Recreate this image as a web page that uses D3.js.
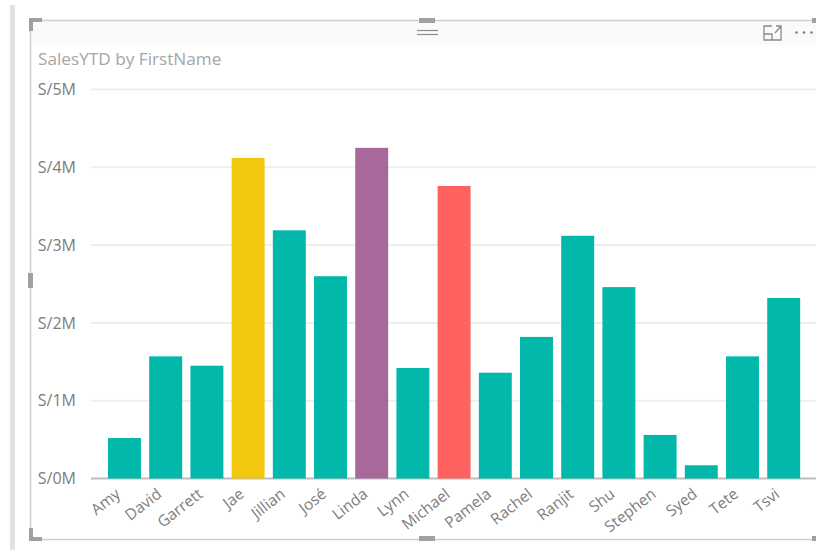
<!DOCTYPE html>
<html>
<head>
<meta charset="utf-8">
<script src="https://cdn.jsdelivr.net/npm/d3@7"></script>
<style>
    html, body { margin: 0; padding: 0; background: #fff; overflow: hidden; }
    text { font-family: "Open Sans", "Noto Sans", sans-serif; }
</style>
</head>
<body>
<div id="chart"></div>
<script>
const names = ["Amy", "David", "Garrett", "Jae", "Jillian", "José", "Linda", "Lynn", "Michael",
    "Pamela", "Rachel", "Ranjit", "Shu", "Stephen", "Syed", "Tete", "Tsvi"];
const salesYTD = [0.52, 1.57, 1.45, 4.12, 3.19, 2.60, 4.25, 1.42, 3.76,
    1.36, 1.82, 3.12, 2.46, 0.56, 0.17, 1.57, 2.32];
const yTicks = [0, 1, 2, 3, 4, 5];
const highlighted = new Map([["Jae", "#f2c80f"], ["Linda", "#a66999"], ["Michael", "#fd625e"]]);

const svg = d3.select("#chart").append("svg").attr("width", 816).attr("height", 550);

// report page edge and visual frame
svg.append("rect").attr("x", 10).attr("y", 5).attr("width", 5).attr("height", 545).attr("fill", "#e2e2e2");
svg.append("rect").attr("x", 31).attr("y", 21).attr("width", 785).attr("height", 24).attr("fill", "#fafafa");
svg.append("path").attr("d", "M816,20.5H30.5V539.5H816").attr("fill", "none").attr("stroke", "#cfcfcf").attr("stroke-width", 1.5);

const handle = "#a0a0a0";
svg.append("path").attr("fill", handle).attr("d", "M29,18h13v4h-9v9h-4z");
svg.append("path").attr("fill", handle).attr("d", "M29,528h4v9h9v4h-13z");
svg.append("rect").attr("x", 419).attr("y", 18).attr("width", 16).attr("height", 5).attr("fill", handle);
svg.append("rect").attr("x", 419).attr("y", 536).attr("width", 16).attr("height", 5).attr("fill", handle);
svg.append("rect").attr("x", 28).attr("y", 273).attr("width", 5).attr("height", 15).attr("fill", handle);
svg.append("rect").attr("x", 812).attr("y", 18).attr("width", 4).attr("height", 5).attr("fill", handle);
svg.append("rect").attr("x", 812).attr("y", 536).attr("width", 4).attr("height", 5).attr("fill", handle);

// drag grip
[30.5, 34.5].forEach(y => {
    svg.append("line").attr("x1", 417).attr("x2", 438).attr("y1", y).attr("y2", y)
        .attr("stroke", "#8c8c8c").attr("stroke-width", 1.2);
});

// focus mode icon and more options
svg.append("path").attr("fill", "none").attr("stroke", "#8a8a8a").attr("stroke-width", 1.3)
    .attr("d", "M772,26H764V40H781V31M764,34H772V40M775,33L781,26M776,26H781V31");
[796.5, 804, 811.5].forEach(cx => {
    svg.append("circle").attr("cx", cx).attr("cy", 32.5).attr("r", 1.3).attr("fill", "#7f7f7f");
});

svg.append("text").attr("x", 38).attr("y", 65).attr("font-size", 17.2).attr("fill", "#a6a6a6")
    .text("SalesYTD by FirstName");

const x = d3.scaleBand().domain(names).range([103.9, 804.3]).paddingInner(0.2).paddingOuter(0.1);
const y = d3.scaleLinear().domain([0, 5]).range([478.5, 89.5]);

const yAxis = svg.append("g").attr("transform", "translate(91,0)")
    .call(d3.axisLeft(y).tickValues(yTicks).tickSize(0).tickPadding(15).tickFormat(d => `S/${d}M`));
yAxis.select(".domain").remove();
yAxis.selectAll("text").attr("font-size", 16).attr("fill", "#7d7d7d").style("font-family", '"Open Sans", sans-serif');

svg.append("g").selectAll("line").data(yTicks).enter().append("line")
    .attr("x1", 91).attr("x2", 816)
    .attr("y1", d => y(d)).attr("y2", d => y(d))
    .attr("stroke", d => d === 0 ? "#bdbdbd" : "#eeeeee")
    .attr("stroke-width", 2);

svg.append("g").selectAll("rect").data(names).enter().append("rect")
    .attr("x", d => x(d))
    .attr("width", x.bandwidth())
    .attr("y", (d, i) => y(salesYTD[i]))
    .attr("height", (d, i) => y(0) - y(salesYTD[i]))
    .attr("fill", d => highlighted.get(d) || "#01b8aa");

const xAxis = svg.append("g").attr("transform", "translate(0,478.5)")
    .call(d3.axisBottom(x).tickSize(0).tickPadding(0));
xAxis.select(".domain").remove();
xAxis.selectAll("text")
    .attr("font-size", 15.5)
    .attr("fill", "#7d7d7d")
    .style("font-family", '"Open Sans", sans-serif')
    .attr("text-anchor", "end")
    .attr("dy", 0)
    .attr("transform", d => `translate(${x.bandwidth() / 2 - 19.5},17.5) rotate(-38)`);
</script>
</body>
</html>
